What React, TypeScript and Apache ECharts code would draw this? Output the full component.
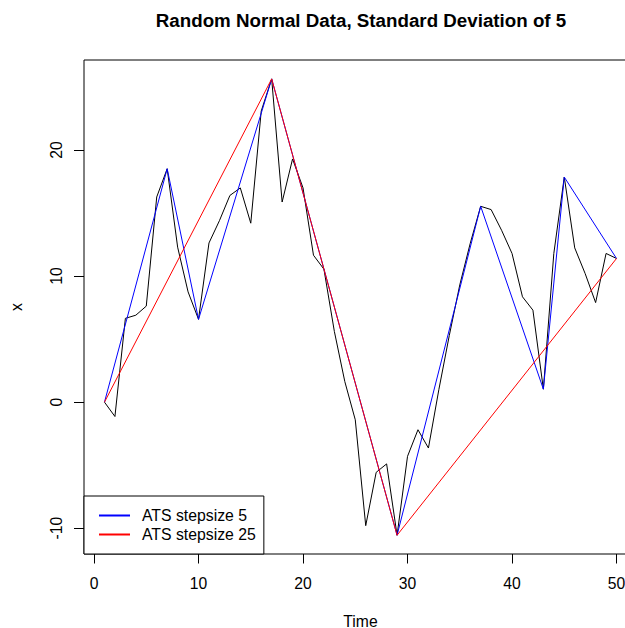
import React, { useEffect, useRef } from "react";
import * as echarts from "echarts";

// Time index and observed series values
const time = [
  1, 2, 3, 4, 5, 6, 7, 8, 9, 10,
  11, 12, 13, 14, 15, 16, 17, 18, 19, 20,
  21, 22, 23, 24, 25, 26, 27, 28, 29, 30,
  31, 32, 33, 34, 35, 36, 37, 38, 39, 40,
  41, 42, 43, 44, 45, 46, 47, 48, 49, 50,
];
const values = [
  0, -1.14, 6.65, 6.9, 7.62, 16.28, 18.52, 12.3, 8.75, 6.57,
  12.63, 14.4, 16.4, 17.0, 14.2, 23.1, 25.65, 15.88, 19.3, 17.0,
  11.66, 10.55, 5.6, 1.63, -1.4, -9.8, -5.57, -4.9, -10.56, -4.3,
  -2.19, -3.64, 1.0, 5.3, 9.3, 12.6, 15.54, 15.28, 13.64, 11.8,
  8.36, 7.3, 1.03, 11.8, 17.86, 12.24, 10.2, 7.9, 11.8, 11.4,
];
// Time points kept by each adaptive step size
const steps5 = [1, 7, 10, 17, 29, 37, 43, 45, 50];
const steps25 = [1, 17, 29, 50];

const xTicks = [0, 10, 20, 30, 40, 50];
const yTicks = [-10, 0, 10, 20];

const titleText = "Random Normal Data, Standard Deviation of 5";
const xName = "Time";
const yName = "x";
const name5 = "ATS stepsize 5";
const name25 = "ATS stepsize 25";

const FONT = "'Liberation Sans', Arial, Helvetica, sans-serif";

export default function App() {
  const ref = useRef<HTMLDivElement>(null);
  useEffect(() => {
    if (!ref.current) return;
    const chart = echarts.init(ref.current, undefined, { renderer: "svg" });
    const main = time.map((t, i) => [t, values[i]]);
    const pick = (s: number[]) => s.map((t) => [t, values[time.indexOf(t)]]);
    chart.setOption({
      animation: false,
      backgroundColor: "#ffffff",
      textStyle: { fontFamily: FONT },
      grid: {
        left: 84,
        top: 60,
        width: 553,
        height: 494,
        show: true,
        borderColor: "#000",
        borderWidth: 1,
        backgroundColor: "transparent",
        containLabel: false,
        outerBoundsMode: "none",
      },
      graphic: [
        {
          type: "text",
          x: 361,
          y: 20,
          style: {
            text: titleText,
            textAlign: "center",
            textVerticalAlign: "middle",
            font: `bold 18.75px ${FONT}`,
            fill: "#000",
          },
        },
      ],
      xAxis: {
        type: "value",
        min: -0.96,
        max: 51.96,
        name: xName,
        nameLocation: "middle",
        nameGap: 59,
        nameTextStyle: { fontSize: 15.7, color: "#000", fontFamily: FONT },
        axisLine: { show: false, onZero: false },
        splitLine: { show: false },
        axisTick: {
          show: true,
          length: 9.5,
          lineStyle: { color: "#000", width: 1 },
          customValues: xTicks,
        },
        axisLabel: {
          show: true,
          margin: 21,
          fontSize: 15.7,
          color: "#000",
          fontFamily: FONT,
          customValues: xTicks,
        },
      },
      yAxis: {
        type: "value",
        min: -12.05,
        max: 27.15,
        name: yName,
        nameLocation: "middle",
        nameGap: 60,
        nameTextStyle: { fontSize: 15.7, color: "#000", fontFamily: FONT },
        axisLine: { show: false, onZero: false },
        splitLine: { show: false },
        axisTick: {
          show: true,
          length: 10,
          lineStyle: { color: "#000", width: 1 },
          customValues: yTicks,
        },
        axisLabel: {
          show: true,
          rotate: 90,
          margin: 20,
          fontSize: 15.7,
          color: "#000",
          fontFamily: FONT,
          customValues: yTicks,
        },
      },
      legend: {
        show: true,
        orient: "vertical",
        left: 84,
        top: 496,
        data: [name5, name25],
        itemWidth: 31,
        itemHeight: 14,
        itemGap: 0,
        itemStyle: { opacity: 0 },
        padding: [10, 8, 10, 14],
        borderColor: "#000",
        borderWidth: 1,
        backgroundColor: "#fff",
        textStyle: {
          fontSize: 15.8,
          color: "#000",
          fontFamily: FONT,
          lineHeight: 19,
          padding: [0, 0, 0, 7],
        },
        selectedMode: false,
      },
      series: [
        {
          name: "x",
          type: "line",
          data: main,
          symbol: "none",
          lineStyle: { color: "#000", width: 1 },
          itemStyle: { color: "#000" },
          z: 2,
        },
        {
          name: name5,
          type: "line",
          data: pick(steps5),
          symbol: "none",
          lineStyle: { color: "#0000ff", width: 1 },
          itemStyle: { color: "#0000ff" },
          z: 3,
        },
        {
          name: name25,
          type: "line",
          data: pick(steps25),
          symbol: "none",
          lineStyle: { color: "#ff0000", width: 1 },
          itemStyle: { color: "#ff0000" },
          z: 4,
        },
      ],
    });
    return () => chart.dispose();
  }, []);
  return (
    <div
      ref={ref}
      style={{ position: "fixed", left: 0, top: 0, width: 625, height: 628, background: "#fff" }}
    />
  );
}
